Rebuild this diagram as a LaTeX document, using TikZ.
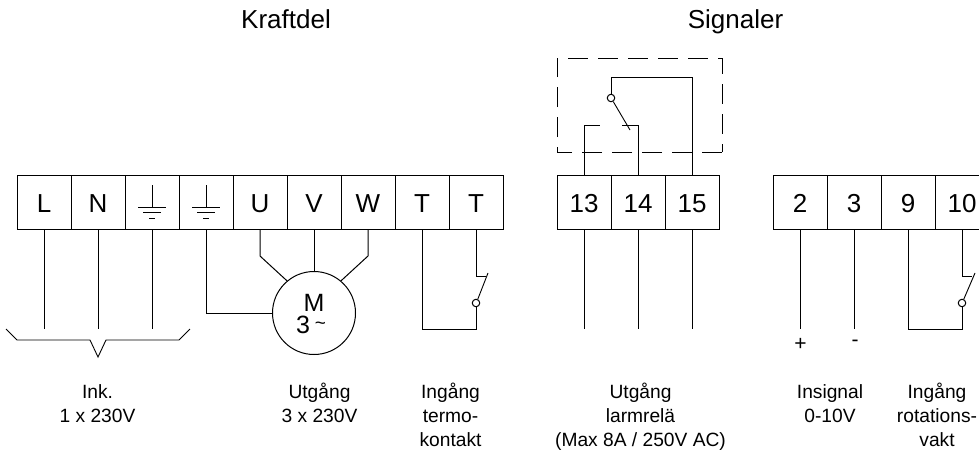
\documentclass[tikz,border=0pt]{standalone}
\usepackage{fontspec}
\setmainfont{Liberation Sans}
\newcommand\firstln{\rule{0pt}{15pt}}
\tikzset{
  every picture/.style={line width=1pt},
  term/.style={draw,rectangle,minimum width=54pt,minimum height=54pt,inner sep=0pt,anchor=center,
    font=\fontsize{26}{26}\selectfont,text height=21.4pt,text depth=0pt},
  wire/.style={draw=black,line width=1pt,line join=miter},
  thin wire/.style={draw=black,line width=0.9pt},
  contact/.style={draw,circle,minimum size=7.5pt,inner sep=0pt,fill=white,line width=1pt},
  motorc/.style={draw,circle,minimum size=83pt,inner sep=0pt},
  lbl/.style={align=center,font=\fontsize{19.2}{24}\selectfont,anchor=north,inner sep=0pt},
  ttl/.style={font=\fontsize{26}{26}\selectfont,inner sep=0pt,anchor=base},
  sgn/.style={font=\fontsize{21}{21}\selectfont,inner sep=0pt},
  mtxt/.style={font=\fontsize{25}{25}\selectfont,inner sep=0pt,anchor=base},
  gnd/.style={line width=1pt}
}
\begin{document}
\begin{tikzpicture}[x=1pt,y=-1pt]
\useasboundingbox (0,0) rectangle (979,450);
\fill[white] (0,0) rectangle (979,450);
% titles
\node[ttl] (tKraft) at (286,28) {Kraftdel};
\node[ttl] (tSig) at (735.5,28) {Signaler};
% terminals
\node[term] (tL) at (44,202) {L};
\node[term] (tN) at (98,202) {N};
\node[term] (tE1) at (152,202) {};
\node[term] (tE2) at (206,202) {};
\node[term] (tU) at (260,202) {U};
\node[term] (tV) at (314,202) {V};
\node[term] (tW) at (368,202) {W};
\node[term] (tT1) at (422,202) {T};
\node[term] (tT2) at (476,202) {T};
\node[term] (t13) at (584,202) {13};
\node[term] (t14) at (638,202) {14};
\node[term] (t15) at (692,202) {15};
\node[term] (t2) at (800,202) {2};
\node[term] (t3) at (854,202) {3};
\node[term] (t9) at (908,202) {9};
\node[term] (t10) at (962,202) {10};
% earth symbols
\foreach \c in {152,206}{
  \draw[gnd] (\c,185) -- (\c,207);
  \draw[gnd] (\c-14,207) -- (\c+14,207);
  \draw[gnd] (\c-9,212.5) -- (\c+9,212.5);
  \draw[gnd] (\c-3,218) -- (\c+3,218);
}
% mains wires and bracket
\coordinate (eL) at (44,329);
\coordinate (eN) at (98,329);
\coordinate (eE) at (152,329);
\draw[wire] (tL.south) -- (eL);
\draw[wire] (tN.south) -- (eN);
\draw[wire] (tE1.south) -- (eE);
\draw[thin wire] (6,329) -- (17,340) -- (90,340) -- (98,357) -- (106,340) -- (179,340) -- (190,329);
% motor
\node[motorc] (motor) at (314,313) {};
\node[mtxt] (motorM) at (314,311) {M};
\node[mtxt] (motor3) at (303,333.5) {3};
\node[mtxt,font=\fontsize{19}{19}\selectfont] (motorT) at (320.5,329) {\char`\~};
\coordinate (bU) at (260,256);
\coordinate (bW) at (368,256);
\draw[wire] (tU.south) -- (bU) -- (motor.130);
\draw[wire] (tV.south) -- (motor.north);
\draw[wire] (tW.south) -- (bW) -- (motor.50);
\draw[wire] (tE2.south) |- (motor.west);
% thermo contact
\node[contact] (sw1) at (476,303) {};
\coordinate (k1a) at (476,276);
\coordinate (k1b) at (486,276);
\coordinate (k1t) at (488,273);
\coordinate (k1c) at (422,329.5);
\coordinate (k1d) at (476,329.5);
\draw[wire] (tT2.south) -- (k1a) -- (k1b);
\draw[thin wire] (sw1.65) -- (k1t);
\draw[wire] (sw1.south) -- (k1d) -- (k1c) -- (tT1.south);
% relay
\node[contact] (sw2) at (611,98) {};
\coordinate (r15a) at (692,77);
\coordinate (r15b) at (611,77);
\coordinate (r13a) at (584,125);
\coordinate (r13b) at (600,125);
\coordinate (r14a) at (638,125);
\coordinate (r14b) at (622,125);
\coordinate (rc) at (630,130);
\draw[wire] (t15.north) -- (r15a) -- (r15b) -- (sw2.north);
\draw[wire] (t13.north) -- (r13a) -- (r13b);
\draw[wire] (t14.north) -- (r14a) -- (r14b);
\draw[thin wire] (sw2.-58) -- (rc);
\draw[thin wire,dash pattern=on 20pt off 10pt] (722,152) -- (557,152) -- (557,58) -- (722,58) -- (722,152);
% relay wires below
\coordinate (e13) at (584,329);
\coordinate (e14) at (638,329);
\coordinate (e15) at (692,329);
\draw[wire] (t13.south) -- (e13);
\draw[wire] (t14.south) -- (e14);
\draw[wire] (t15.south) -- (e15);
% signal wires
\coordinate (e2) at (800,329);
\coordinate (e3) at (854,329);
\draw[wire] (t2.south) -- (e2);
\draw[wire] (t3.south) -- (e3);
\node[sgn] (plus) at (800.5,344) {+};
\node[sgn] (minus) at (855,343.5) {-};
% rotation contact
\node[contact] (sw3) at (962,303) {};
\coordinate (k2a) at (962,276);
\coordinate (k2b) at (972,276);
\coordinate (k2t) at (975,273);
\coordinate (k2c) at (908,329.5);
\coordinate (k2d) at (962,329.5);
\draw[wire] (t10.south) -- (k2a) -- (k2b);
\draw[thin wire] (sw3.65) -- (k2t);
\draw[wire] (sw3.south) -- (k2d) -- (k2c) -- (t9.south);
% labels
\node[lbl] (l1) at (97.5,382.5) {\firstln Ink.\\1 x 230V};
\node[lbl] (l2) at (319.5,382.5) {\firstln Utgång\\3 x 230V};
\node[lbl] (l3) at (450.5,382.5) {\firstln Ingång\\termo-\\kontakt};
\node[lbl] (l4) at (640.5,382.5) {\firstln Utgång\\larmrelä\\(Max 8A / 250V AC)};
\node[lbl] (l5) at (830,382.5) {\firstln Insignal\\0-10V};
\node[lbl] (l6) at (937,382.5) {\firstln Ingång\\rotations-\\vakt};
\end{tikzpicture}
\end{document}
